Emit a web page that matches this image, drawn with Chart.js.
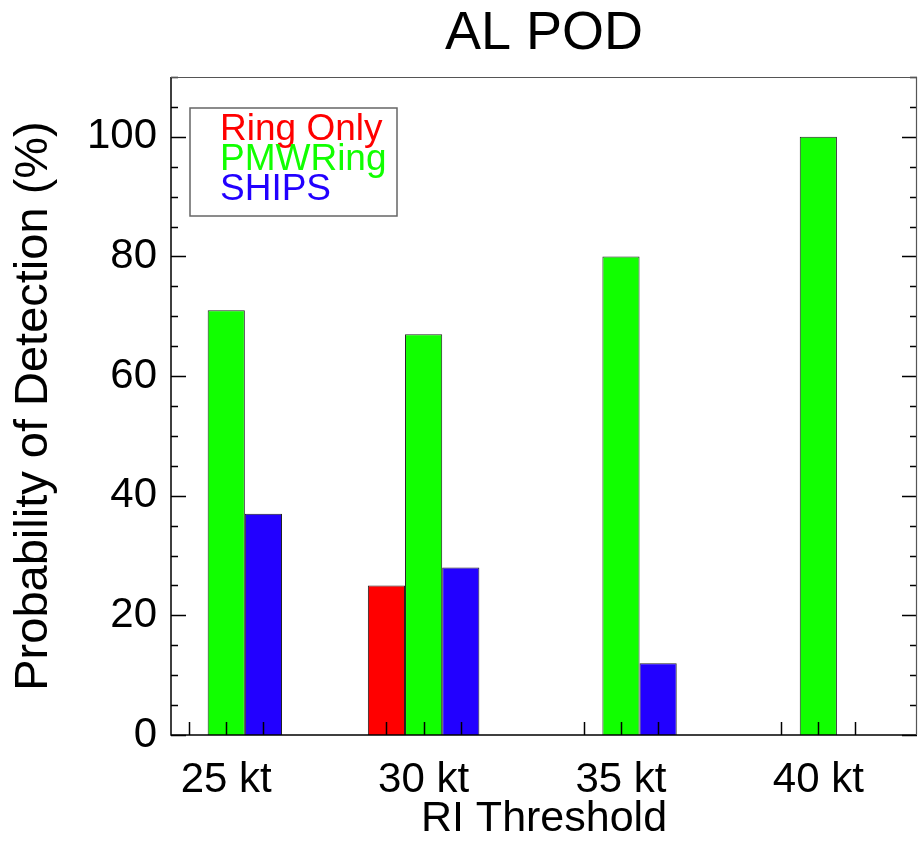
<!DOCTYPE html>
<html>
<head>
<meta charset="utf-8">
<title>AL POD</title>
<script src="https://cdn.jsdelivr.net/npm/chart.js@4"></script>
<style>
  html, body { margin: 0; padding: 0; background: #ffffff; }
  #chartWrap { width: 918px; height: 841px; }
</style>
</head>
<body>
<div id="chartWrap"><canvas id="chartPod" width="918" height="841"></canvas></div>
<script>
// Datos de la gráfica
const thresholds = [25, 30, 35, 40];
const ringOnly = [0, 25, 0, 0];
const pmwRing = [71, 67, 80, 100];
const ships = [37, 28, 12, 0];
const yMajorTicks = [0, 20, 40, 60, 80, 100];

const seriesNames = ['Ring Only', 'PMWRing', 'SHIPS'];
const seriesColors = ['#ff0000', '#11ff00', '#2200ff'];

const FONT = '"Liberation Sans", Arial, Helvetica, sans-serif';

// Convierte un arreglo de valores en puntos {x, y}
function toPoints(values) {
  return thresholds.map((t, i) => ({ x: t, y: values[i] }));
}

/**
 * Dibuja el marco, las marcas de los ejes y la leyenda
 */
const framePlugin = {
  id: 'frame',
  afterDatasetsDraw(chart) {
    const ctx = chart.ctx;
    const area = chart.chartArea;
    const yScale = chart.scales.y;

    ctx.save();
    ctx.strokeStyle = '#000000';
    ctx.lineWidth = 1.5;

    // Marcas del eje Y (izquierda y derecha), menores cada 5
    for (let v = 0; v <= 110; v += 5) {
      const y = Math.round(yScale.getPixelForValue(v)) + 0.5;
      const len = v % 20 === 0 && v <= 100 ? 15 : 7;
      ctx.beginPath();
      ctx.moveTo(area.left, y);
      ctx.lineTo(area.left + len, y);
      ctx.moveTo(area.right, y);
      ctx.lineTo(area.right - len, y);
      ctx.stroke();
    }

    // Marcas del eje X en el centro de cada barra
    chart.data.datasets.forEach((ds, i) => {
      chart.getDatasetMeta(i).data.forEach(bar => {
        const x = Math.round(bar.x) + 0.5;
        ctx.beginPath();
        ctx.moveTo(x, area.bottom);
        ctx.lineTo(x, area.bottom - 13);
        ctx.stroke();
      });
    });

    // Marco
    ctx.beginPath();
    ctx.moveTo(area.left, area.top);
    ctx.lineTo(area.left, area.bottom);
    ctx.lineTo(area.right, area.bottom);
    ctx.stroke();
    ctx.strokeStyle = '#555555';
    ctx.lineWidth = 1.2;
    ctx.beginPath();
    ctx.moveTo(area.left, area.top + 0.5);
    ctx.lineTo(area.right, area.top + 0.5);
    ctx.moveTo(area.right - 0.5, area.top);
    ctx.lineTo(area.right - 0.5, area.bottom);
    ctx.stroke();

    // Leyenda (solo texto con color)
    const boxX = area.left + 19;
    const boxY = area.top + 31;
    ctx.strokeStyle = '#666666';
    ctx.lineWidth = 1.5;
    ctx.strokeRect(boxX, boxY, 207, 108);
    ctx.font = '37px ' + FONT;
    ctx.textAlign = 'left';
    ctx.textBaseline = 'alphabetic';
    chart.data.datasets.forEach((ds, i) => {
      ctx.fillStyle = ds.backgroundColor;
      ctx.fillText(ds.label, boxX + 30, boxY + 32 + i * 30);
    });
    ctx.restore();
  }
};

/**
 * Inicializa la gráfica
 */
function initializeChart() {
  const ctx = document.getElementById('chartPod').getContext('2d');
  const seriesValues = [ringOnly, pmwRing, ships];

  return new Chart(ctx, {
    type: 'bar',
    data: {
      datasets: seriesValues.map((values, i) => ({
        label: seriesNames[i],
        data: toPoints(values),
        backgroundColor: seriesColors[i],
        borderColor: '#222222',
        borderWidth: 1,
        categoryPercentage: 0.565,
        barPercentage: 1.0
      }))
    },
    options: {
      responsive: false,
      animation: false,
      layout: { padding: { left: 0, right: 1, top: 0, bottom: 0 } },
      plugins: {
        legend: { display: false },
        tooltip: { enabled: false },
        title: {
          display: true,
          text: 'AL POD',
          fullSize: false,
          color: '#000000',
          font: { family: FONT, size: 54, weight: 'normal', lineHeight: 1 },
          padding: { top: 7, bottom: 16 }
        }
      },
      scales: {
        x: {
          type: 'linear',
          min: 23.6,
          max: 42.5,
          offset: false,
          grid: { display: false, drawTicks: false },
          border: { display: false },
          afterBuildTicks: scale => {
            scale.ticks = thresholds.map(v => ({ value: v }));
          },
          afterFit: scale => { scale.height = 106; },
          ticks: {
            color: '#000000',
            font: { family: FONT, size: 42 },
            padding: 20,
            maxRotation: 0,
            callback: v => v + ' kt'
          },
          title: {
            display: true,
            text: 'RI Threshold',
            color: '#000000',
            font: { family: FONT, size: 43, lineHeight: 1 },
            padding: { top: 0, bottom: 0 }
          }
        },
        y: {
          min: 0,
          max: 110,
          grid: { display: false, drawTicks: false },
          border: { display: false },
          afterBuildTicks: scale => {
            scale.ticks = yMajorTicks.map(v => ({ value: v }));
          },
          afterFit: scale => { scale.width = 171; },
          ticks: {
            color: '#000000',
            font: { family: FONT, size: 42 },
            padding: 14
          },
          title: {
            display: true,
            text: 'Probability of Detection (%)',
            color: '#000000',
            font: { family: FONT, size: 47, lineHeight: 1.2 },
            padding: { top: 6, bottom: 0 }
          }
        }
      }
    },
    plugins: [framePlugin]
  });
}

const chartPod = initializeChart();
</script>
</body>
</html>
